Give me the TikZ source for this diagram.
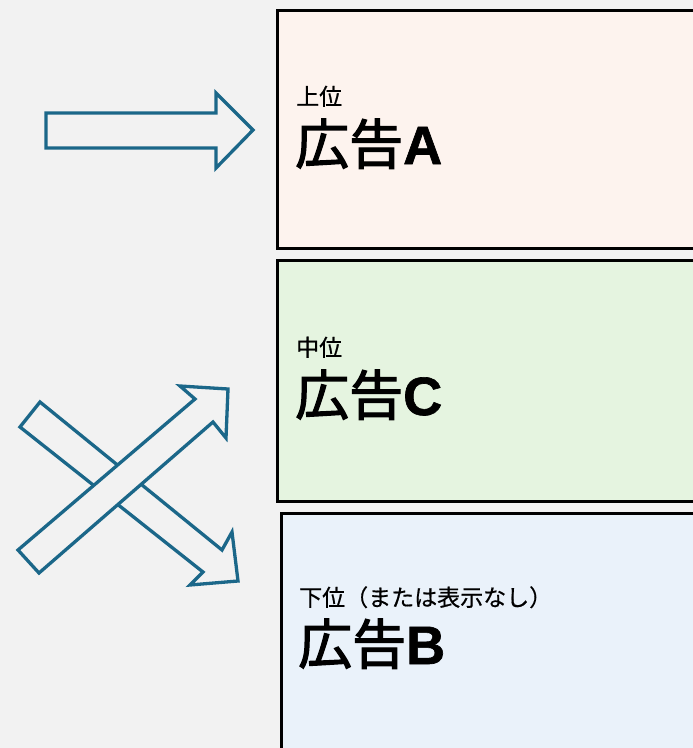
\documentclass[tikz,border=0pt]{standalone}
\usepackage{fontspec}
\newfontfamily\jpfont[FakeBold=0.6]{Noto Sans CJK JP}
\newfontfamily\jpbig[FakeBold=2.2]{Noto Sans CJK JP}
\newfontfamily\latbig[FakeBold=1.2]{Liberation Sans}
\definecolor{bgc}{HTML}{F2F2F2}
\definecolor{arrowc}{HTML}{1B6789}
\definecolor{fillA}{HTML}{FDF3EE}
\definecolor{fillC}{HTML}{E5F4E0}
\definecolor{fillB}{HTML}{EAF2FA}
\tikzset{
  adbox/.style={draw=black, line width=3pt, rectangle, anchor=north west, outer sep=0pt, inner sep=0pt},
  blockarrow/.style={draw=arrowc, line width=3.3pt, fill=bgc, line join=miter},
  smalltxt/.style={anchor=base west, inner sep=0pt, font=\jpfont\fontsize{23}{23}\selectfont},
  bigtxt/.style={anchor=base west, inner sep=0pt, font=\jpbig\fontsize{54}{54}\selectfont}
}
\begin{document}
\begin{tikzpicture}[x=1pt,y=-1pt]
\useasboundingbox (0,0) rectangle (693,748);
\clip (0,0) rectangle (693,748);
\fill[bgc] (0,0) rectangle (693,748);
% boxes
\node[adbox, fill=fillA, minimum width=440pt, minimum height=238pt] (boxA) at (277.5,10) {};
\node[adbox, fill=fillC, minimum width=440pt, minimum height=241pt] (boxC) at (277.5,260) {};
\node[adbox, fill=fillB, minimum width=440pt, minimum height=260pt] (boxB) at (281.5,513) {};
% texts
\node[smalltxt] (tA1) at (296,105) {上位};
\node[bigtxt] (tA2) at (295,164) {広告\latbig\bfseries A};
\node[smalltxt] (tC1) at (296,356) {中位};
\node[bigtxt] (tC2) at (295,415) {広告\latbig\bfseries C};
\node[smalltxt] (tB1) at (299,606) {下位（または表示なし）};
\node[bigtxt] (tB2) at (298,664) {広告\latbig\bfseries B};
% straight arrow
\draw[blockarrow] (46,113) -- (216,113) -- (216,93) -- (253,130) -- (216,168) -- (216,148) -- (46,148) -- cycle;
% down-right arrow
\draw[blockarrow] (40,402) -- (222,550) -- (232,532) -- (238,581) -- (190,585) -- (203,572) -- (20,427) -- cycle;
% up-right arrow
\draw[blockarrow] (18,550) -- (195,399) -- (180,386) -- (228,389) -- (226,438) -- (213,422) -- (39,573) -- cycle;
\end{tikzpicture}
\end{document}
